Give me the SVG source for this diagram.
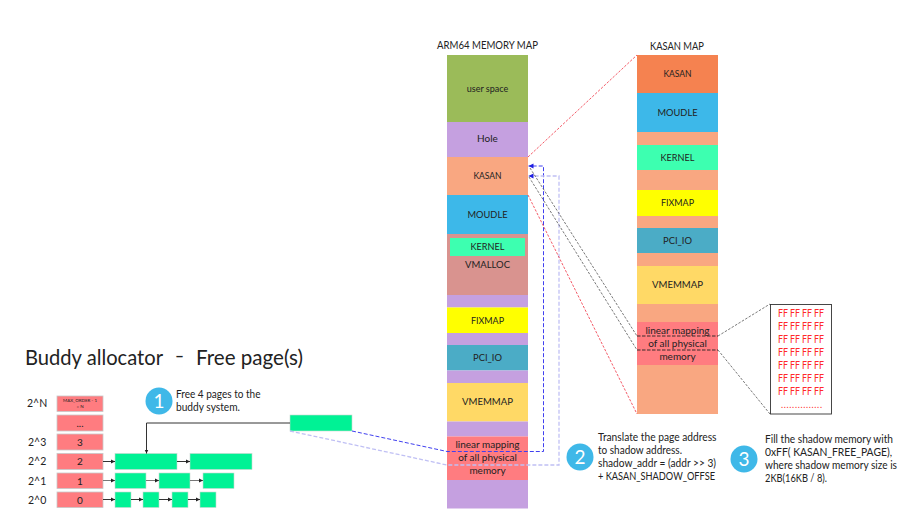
<svg xmlns="http://www.w3.org/2000/svg" width="920" height="516" viewBox="0 0 920 516">
<style>
text{font-family:Lato,"Noto Sans","Liberation Sans",sans-serif;fill:#222}
.c{text-anchor:middle;font-size:10px}
.s{font-size:8.500px}
.l{font-size:10.500px}
.ff{font-size:10.500px;fill:#ff2a2a}
.n{font-size:19px;fill:#fff;text-anchor:middle}
.buddy{fill:#ff7c80;stroke:#c8c8c8;stroke-width:.8}
.g{fill:#00f295;stroke:#c8d8d0;stroke-width:.6}
.k{stroke:#333;stroke-width:1;fill:none;marker-end:url(#a)}
.red{stroke:#f03040;stroke-width:.8;stroke-dasharray:2.500 1.500;fill:none}
.gd{stroke:#555;stroke-width:.8;stroke-dasharray:2.500 1.500;fill:none}
.bd{stroke:#4040f0;stroke-width:1;stroke-dasharray:4 2;fill:none}
.bl{stroke:#c0c0f4;stroke-width:1.300;stroke-dasharray:4 2;fill:none}
.circ{fill:#3fb8e8}
</style>
<defs>
<marker id="a" markerWidth="5" markerHeight="5" refX="4" refY="2.500" orient="auto" markerUnits="userSpaceOnUse"><path d="M0 .5L4 2.500L0 4.500z" fill="#222"/></marker>
<marker id="b" markerWidth="6" markerHeight="6" refX="5" refY="3" orient="auto" markerUnits="userSpaceOnUse"><path d="M0 .5L5 3L0 5.500z" fill="#2020e0"/></marker>
</defs>

<g id="title" style="font-size:21px">
<text x="25" y="365" style="font-size:21px" textLength="138" lengthAdjust="spacingAndGlyphs">Buddy allocator</text>
<text x="175" y="363" style="font-size:21px" textLength="9" lengthAdjust="spacingAndGlyphs">–</text>
<text x="196" y="365" style="font-size:21px" textLength="107" lengthAdjust="spacingAndGlyphs">Free page(s)</text>
</g>

<g id="arm-map">
<text x="437" y="49" style="font-size:10.500px" textLength="101" lengthAdjust="spacingAndGlyphs">ARM64 MEMORY MAP</text>
<g id="arm-user"><rect x="447" y="55" width="81" height="67" fill="#9bbb59"/><text class="c" x="487.500" y="92" style="font-size:9px">user space</text></g>
<g id="arm-hole"><rect x="447" y="122" width="81" height="35" fill="#c5a0e0"/><text class="c" x="487.500" y="141.500">Hole</text></g>
<g id="arm-kasan"><rect x="447" y="157" width="81" height="38" fill="#f9a781"/><text class="c s" x="487.500" y="179">KASAN</text></g>
<g id="arm-moudle"><rect x="447" y="195" width="81" height="39" fill="#3db8e9"/><text class="c" x="487.500" y="218" textLength="40" lengthAdjust="spacingAndGlyphs">MOUDLE</text></g>
<g id="arm-vmalloc"><rect x="447" y="234" width="81" height="61" fill="#d9938f"/><text class="c" x="487.500" y="268" textLength="45" lengthAdjust="spacingAndGlyphs">VMALLOC</text></g>
<g id="arm-kernel"><rect x="450" y="238" width="75" height="18" fill="#3dffb0"/><text class="c" x="487.500" y="250" textLength="34" lengthAdjust="spacingAndGlyphs">KERNEL</text></g>
<rect x="447" y="295" width="81" height="12.500" fill="#c5a0e0"/>
<g id="arm-fixmap"><rect x="447" y="307.500" width="81" height="25.500" fill="#ff0"/><text class="c" x="487.500" y="324" textLength="33" lengthAdjust="spacingAndGlyphs">FIXMAP</text></g>
<rect x="447" y="333" width="81" height="12" fill="#c5a0e0"/>
<g id="arm-pci"><rect x="447" y="345" width="81" height="25.500" fill="#4bacc6"/><text class="c" x="487.500" y="361" textLength="29" lengthAdjust="spacingAndGlyphs">PCI_IO</text></g>
<rect x="447" y="370.500" width="81" height="12.500" fill="#c5a0e0"/>
<g id="arm-vmemmap"><rect x="447" y="383" width="81" height="38.500" fill="#ffd966"/><text class="c" x="487.500" y="405" textLength="51" lengthAdjust="spacingAndGlyphs">VMEMMAP</text></g>
<rect x="447" y="421.500" width="81" height="15" fill="#c5a0e0"/>
<g id="arm-linear"><rect x="447" y="436.500" width="81" height="43.500" fill="#ff7c80"/><text class="c" x="487.500" y="448">linear mapping</text><text class="c" x="487.500" y="461">of all physical</text><text class="c" x="487.500" y="474">memory</text></g>
<rect x="447" y="480" width="81" height="28.500" fill="#c5a0e0"/>
</g>

<g id="kasan-map">
<text x="650" y="49.500" style="font-size:10.500px" textLength="54" lengthAdjust="spacingAndGlyphs">KASAN MAP</text>
<g id="k-kasan"><rect x="637" y="55" width="81" height="38" fill="#f58250"/><text class="c s" x="677.500" y="77">KASAN</text></g>
<g id="k-moudle"><rect x="637" y="93" width="81" height="39" fill="#3db8e9"/><text class="c" x="677.500" y="116" textLength="40" lengthAdjust="spacingAndGlyphs">MOUDLE</text></g>
<rect x="637" y="132" width="81" height="13" fill="#f9a781"/>
<g id="k-kernel"><rect x="637" y="145" width="81" height="25" fill="#3dffb0"/><text class="c" x="677.500" y="161" textLength="34" lengthAdjust="spacingAndGlyphs">KERNEL</text></g>
<rect x="637" y="170" width="81" height="20" fill="#f9a781"/>
<g id="k-fixmap"><rect x="637" y="190" width="81" height="26" fill="#ff0"/><text class="c" x="677.500" y="206" textLength="33" lengthAdjust="spacingAndGlyphs">FIXMAP</text></g>
<rect x="637" y="216" width="81" height="12" fill="#f9a781"/>
<g id="k-pci"><rect x="637" y="228" width="81" height="25" fill="#4bacc6"/><text class="c" x="677.500" y="244" textLength="29" lengthAdjust="spacingAndGlyphs">PCI_IO</text></g>
<rect x="637" y="253" width="81" height="13" fill="#f9a781"/>
<g id="k-vmemmap"><rect x="637" y="266" width="81" height="38" fill="#ffd966"/><text class="c" x="677.500" y="288" textLength="51" lengthAdjust="spacingAndGlyphs">VMEMMAP</text></g>
<rect x="637" y="304" width="81" height="18" fill="#f9a781"/>
<g id="k-linear"><rect x="637" y="322" width="81" height="43" fill="#ff7c80"/><text class="c" x="677.500" y="334">linear mapping</text><text class="c" x="677.500" y="347">of all physical</text><text class="c" x="677.500" y="360">memory</text></g>
<rect x="637" y="365" width="81" height="49" fill="#f9a781"/>
</g>

<g id="shadow-box">
<rect x="770.500" y="304.500" width="61" height="109.500" fill="#fff" stroke="#333" stroke-width=".9"/>
<text class="ff" x="778" y="317" textLength="46" lengthAdjust="spacingAndGlyphs">FF FF FF FF</text>
<text class="ff" x="778" y="330" textLength="46" lengthAdjust="spacingAndGlyphs">FF FF FF FF</text>
<text class="ff" x="778" y="343" textLength="46" lengthAdjust="spacingAndGlyphs">FF FF FF FF</text>
<text class="ff" x="778" y="356" textLength="46" lengthAdjust="spacingAndGlyphs">FF FF FF FF</text>
<text class="ff" x="778" y="368.500" textLength="46" lengthAdjust="spacingAndGlyphs">FF FF FF FF</text>
<text class="ff" x="778" y="381.500" textLength="46" lengthAdjust="spacingAndGlyphs">FF FF FF FF</text>
<text class="ff" x="778" y="394.500" textLength="46" lengthAdjust="spacingAndGlyphs">FF FF FF FF</text>
<text class="ff" x="781" y="408" style="font-size:9px" textLength="41">...............</text>
</g>

<g id="buddy-orders">
<g id="order-n"><rect class="buddy" x="57" y="396" width="46" height="15.500"/><text class="c" x="80" y="402" style="font-size:4.500px">MAX_ORDER - 1</text><text class="c" x="80" y="408" style="font-size:4.500px">= N</text><text class="l" x="27" y="407">2^N</text></g>
<g id="order-dots"><rect class="buddy" x="57" y="415" width="46" height="16"/><text class="c" x="80" y="427">...</text></g>
<g id="order-3"><rect class="buddy" x="57" y="434" width="46" height="16"/><text class="c" x="80" y="446">3</text><text class="l" x="28" y="446">2^3</text></g>
<g id="order-2"><rect class="buddy" x="57" y="453.500" width="46" height="16"/><text class="c" x="80" y="465">2</text><text class="l" x="28" y="465">2^2</text></g>
<g id="order-1"><rect class="buddy" x="57" y="473" width="46" height="15.500"/><text class="c" x="80" y="484.500">1</text><text class="l" x="28" y="484.500">2^1</text></g>
<g id="order-0"><rect class="buddy" x="57" y="492" width="46" height="15.500"/><text class="c" x="80" y="503.500">0</text><text class="l" x="28" y="503.500">2^0</text></g>
</g>

<g id="free-blocks">
<rect class="g" x="290" y="415" width="62" height="16"/>
<rect class="g" x="115" y="453.500" width="62" height="16"/>
<rect class="g" x="190" y="453.500" width="62" height="16"/>
<rect class="g" x="115" y="473" width="31" height="15.500"/>
<rect class="g" x="159" y="473" width="31" height="15.500"/>
<rect class="g" x="203" y="473" width="31" height="15.500"/>
<rect class="g" x="115" y="492" width="16" height="15.500"/>
<rect class="g" x="143" y="492" width="16" height="15.500"/>
<rect class="g" x="172" y="492" width="16" height="15.500"/>
<rect class="g" x="200" y="492" width="16" height="15.500"/>
</g>

<g id="connectors">
<path class="k" d="M290 423H146.500V453.500"/>
<path class="k" d="M103 461.500H115"/>
<path class="k" d="M177 461.500H190"/>
<path class="k" style="stroke:#777" d="M103 480.500H115"/>
<path class="k" style="stroke:#777" d="M146 480.500H159"/>
<path class="k" style="stroke:#777" d="M190 480.500H203"/>
<path class="k" d="M103 499.500H115"/>
<path class="k" d="M131 499.500H143"/>
<path class="k" d="M159 499.500H172"/>
<path class="k" d="M188 499.500H200"/>
<path class="bd" marker-end="url(#b)" d="M352 431L447 451.500H543.500V166H528.500"/>
<path class="bl" marker-end="url(#b)" d="M290 431L447 465H559V176H528.500"/>
<path class="red" d="M528 157L637 55M528 195L637 414"/>
<path class="gd" d="M530 168L637 336M529 177L637 350"/>
<path style="stroke:#222;stroke-width:.9;stroke-dasharray:3.500 1.500;fill:none" d="M637 336H718M637 350H718"/>
<path class="gd" d="M718 336L770 304M718 350L770 414"/>
</g>

<g id="step-1"><circle class="circ" cx="159" cy="401" r="13.500"/><text class="n" x="159" y="408">1</text>
<text class="l" x="176" y="398" textLength="84.500" lengthAdjust="spacingAndGlyphs">Free 4 pages to the</text><text class="l" x="176" y="411" textLength="64" lengthAdjust="spacingAndGlyphs">buddy system.</text></g>
<g id="step-2"><circle class="circ" cx="580" cy="457" r="13.500"/><text class="n" x="580" y="464">2</text>
<text class="l" x="598" y="441" textLength="118.500" lengthAdjust="spacingAndGlyphs">Translate the page address</text><text class="l" x="598" y="454" textLength="84" lengthAdjust="spacingAndGlyphs">to shadow address.</text><text class="l" x="598" y="467" textLength="118" lengthAdjust="spacingAndGlyphs">shadow_addr = (addr &gt;&gt; 3)</text><text class="l" x="598" y="480" textLength="117" lengthAdjust="spacingAndGlyphs">+ KASAN_SHADOW_OFFSE</text></g>
<g id="step-3"><circle class="circ" cx="744" cy="459" r="13.500"/><text class="n" x="744" y="466">3</text>
<text class="l" x="765" y="443" textLength="128" lengthAdjust="spacingAndGlyphs">Fill the shadow memory with</text><text class="l" x="765" y="456" textLength="127" lengthAdjust="spacingAndGlyphs">0xFF( KASAN_FREE_PAGE),</text><text class="l" x="765" y="469" textLength="132" lengthAdjust="spacingAndGlyphs">where shadow memory size is</text><text class="l" x="765" y="482" textLength="62" lengthAdjust="spacingAndGlyphs">2KB(16KB / 8).</text></g>
</svg>
